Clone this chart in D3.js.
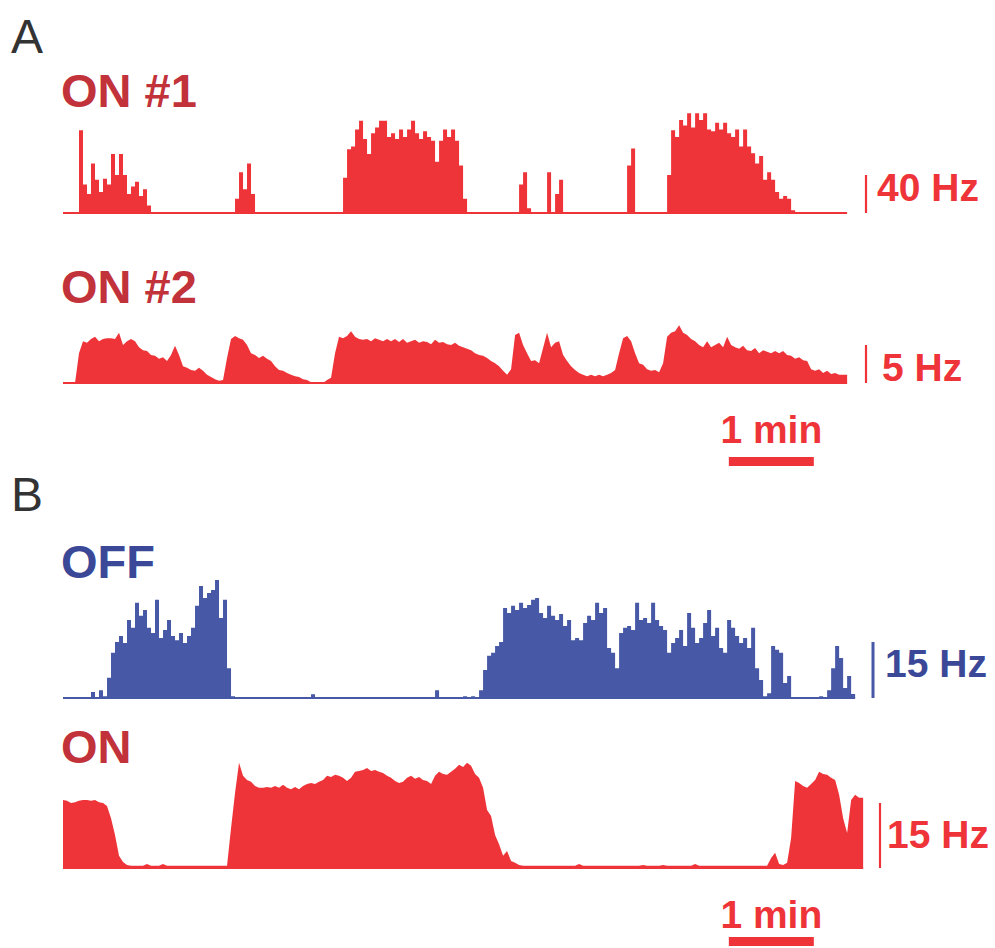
<!DOCTYPE html>
<html>
<head>
<meta charset="UTF-8">
<title></title>
<script src="https://cdn.jsdelivr.net/npm/d3@7/dist/d3.min.js"></script>
<style type="text/css">
	*{
		margin: 0;
		padding: 0;
	}
	body{
		background: #fff;
	}
	#mychart{
		width: 995px;
		height: 948px;
	}
	text{
		font-family: "Liberation Sans", Arial, sans-serif;
	}
</style>
</head>
<body>
<div id="mychart"></div>
<script type="text/javascript">
	//each sample covers ~2.8 s of recording
	var binSec = 2.824;

	//firing rate, ON #1 (Hz)
	var on1Rate = [
		0,0,0,0,
		87,30,20,52,35,22,36,30,62,40,62,40,20,28,33,18,25,8,
		0,0,0,0,0,1,0,0,0,0,0,0,0,0,0,0,0,0,0,0,0,
		15,43,25,52,20,
		0,0,0,0,0,0,0,0,0,0,0,0,0,0,0,0,0,0,0,0,0,0,
		37,67,70,88,97,78,62,84,90,97,97,80,84,78,88,80,88,97,84,78,86,80,76,54,76,88,80,88,76,50,15,
		0,0,0,0,0,0,0,0,0,0,0,0,0,
		30,43,5,
		0,0,0,0,
		43,0,20,35,
		0,0,0,0,0,0,0,0,0,0,0,0,0,0,0,0,
		50,68,
		0,0,0,0,0,0,0,0,
		40,87,80,98,92,105,90,105,98,105,88,86,95,88,95,84,80,88,70,88,70,63,52,60,35,43,35,22,15,18,15,3,
		0,0,0,0,0,0,0,0,0,0,0,0,0
	];

	//firing rate, ON #2 (Hz)
	var on2Rate = [
		0,0,0,0,
		3.9,5.5,5.3,5.8,6.1,5.5,5.8,5.9,5.9,5.8,6.6,5.0,5.5,5.8,5.5,4.7,4.3,4.2,3.7,3.6,
		3.2,3.4,2.9,3.7,4.9,3.7,2.2,2.0,1.7,1.6,2.0,1.6,1.1,0.8,0.5,0.3,0.4,
		3.3,5.8,6.2,5.9,5.7,5.0,3.9,3.7,3.3,3.6,3.2,2.9,2.2,1.7,1.6,1.3,1.1,0.9,0.8,0.5,
		0.4,0.1,0,0,0,0.4,0.7,
		3.9,6.1,5.9,6.2,6.8,6.1,5.8,5.7,5.8,5.5,5.9,5.7,5.5,5.8,5.5,5.8,5.4,5.8,5.3,5.5,
		5.7,5.3,5.5,5.4,5.1,5.7,5.3,5.4,5.1,5.0,5.3,4.9,4.7,4.5,4.3,3.9,3.7,3.6,3.3,2.9,
		2.6,2.2,1.6,1.1,
		1.8,6.3,6.6,5.0,3.9,2.9,3.0,2.6,4.6,6.6,4.7,5.3,5.5,3.7,2.9,2.2,1.7,1.3,1.1,0.9,
		1.1,0.9,1.1,0.9,1.1,1.3,1.7,3.9,5.9,6.2,5.5,3.9,2.6,2.4,1.8,1.6,1.7,1.4,2.6,
		6.1,6.6,6.8,7.6,6.6,6.3,5.8,5.5,5.0,4.7,5.5,4.7,5.0,5.3,4.7,6.1,5.0,4.7,4.5,4.9,
		4.3,4.2,4.6,3.9,4.3,4.1,3.9,4.2,3.9,4.2,3.7,3.6,3.2,3.4,3.0,2.9,1.8,1.6,1.8,1.3,
		1.6,1.2,1.3,1.1,1.1
	];

	//firing rate, OFF cell (Hz)
	var offRate = [
		0,0,0,0,0,0,0.3,1.6,0.3,2.1,0.5,
		5.4,12.1,15.0,16.6,14.7,20.9,18.8,25.5,22.0,23.6,18.8,17.4,26.3,16.1,18.2,20.9,16.6,15.5,17.4,14.7,
		16.6,18.8,24.7,30.0,26.8,28.1,28.9,31.6,21.4,26.3,8.0,0.5,
		0,0,0,0,0,0,0,0,0,0.3,0,0,0,0,0,0,0,0,0,
		1.0,
		0,0,0,0,0,0.3,0,0,0,0,0,0,0,0,0,0,0,0,0,0,0,0.3,0,0,0,0,0,0,0,0,
		2.1,
		0,0,0,0,0.3,0,0.5,0.3,0.5,0.3,
		2.1,7.5,11.3,12.1,13.9,15.0,24.1,22.8,24.7,23.6,25.5,24.1,24.9,26.3,26.8,
		22.8,21.4,24.7,22.0,20.9,22.5,19.3,20.9,15.5,16.1,15.5,20.1,22.0,20.9,25.5,22.8,24.1,
		13.4,12.1,8.0,17.4,18.8,19.3,18.2,25.5,20.9,21.4,20.1,25.5,20.9,19.3,18.2,
		12.1,14.7,16.1,18.2,13.9,22.8,18.8,14.7,16.1,20.1,23.6,16.6,18.8,13.4,12.1,
		20.9,18.8,16.6,14.7,16.1,13.4,18.8,8.0,4.8,0.5,1.3,13.9,12.9,12.1,4.0,5.9,
		0.3,0,0.3,0,0.3,0,0.3,0.5,0.3,
		2.1,8.0,13.9,10.7,2.7,5.9,1.1
	];

	//firing rate, ON cell (Hz)
	var onRate = [
		15.7,15.5,15.0,15.2,15.5,15.7,15.7,15.5,15.7,15.2,15.0,14.3,11.5,7.6,2.8,1.4,0.7,
		0.5,0.5,0.5,0.5,0.9,0.5,0.5,0.5,0.9,0.5,0.5,0.5,0.5,0.5,0.5,0.5,0.5,0.5,0.5,0.5,
		0.5,0.5,0.5,0.5,0.5,
		9.2,17.3,24.3,21.3,20.3,19.9,18.9,18.5,18.5,18.7,18.5,18.9,18.5,19.2,18.5,18.2,18.7,18.2,18.9,19.4,
		19.6,19.4,19.9,20.3,21.3,21.0,21.5,21.3,20.8,20.1,20.8,22.2,22.4,22.6,23.1,22.4,22.6,22.2,21.9,21.3,
		20.8,20.1,19.6,19.9,20.8,21.3,20.6,21.0,20.3,20.1,19.4,21.3,22.2,21.7,21.5,22.2,22.9,23.8,23.3,24.3,
		23.6,21.7,20.8,18.5,13.4,12.0,7.6,5.5,2.8,3.9,1.6,1.2,0.7,
		0.5,0.5,0.5,0.5,0.5,0.5,0.5,0.5,0.5,0.5,
		0.5,0.5,0.5,0.5,0.9,0.5,0.5,0.5,0.5,0.5,
		0.5,0.5,0.5,0.5,0.5,0.5,0.5,0.5,0.5,0.5,
		0.7,0.5,0.5,0.5,0.5,0.7,0.5,0.5,0.5,0.5,
		0.5,0.5,0.5,0.9,0.5,0.5,0.5,0.5,0.5,0.5,
		0.5,0.5,0.5,0.5,0.5,0.5,0.5,0.5,0.5,0.5,
		0.5,0.5,
		2.3,3.5,0.9,0.7,1.2,6.9,20.1,19.6,18.9,18.5,19.4,20.3,22.2,21.7,21.5,20.8,20.3,16.9,11.5,8.1,
		15.7,16.9,16.2
	];

	//scale bars
	var traceNames = ["ON #1", "ON #2", "OFF", "ON"];
	var scaleBarHz = [40, 5, 15, 15];
	var timeBarSec = 60;

	var red = "#ee3439", redDark = "#c2323a", blue = "#4759a6", blueDark = "#3b4898";

	var traces = [
		{name: traceNames[0], data: on1Rate, bar: scaleBarHz[0], base: 213, barPx: 38, step: true,
		 color: red, titleColor: redDark, titleY: 107, barX: 866, labelX: 877, labelY: 201},
		{name: traceNames[1], data: on2Rate, bar: scaleBarHz[1], base: 383, barPx: 38, step: false,
		 color: red, titleColor: redDark, titleY: 303, barX: 866, labelX: 882, labelY: 381},
		{name: traceNames[2], data: offRate, bar: scaleBarHz[2], base: 698, barPx: 56, step: true,
		 color: blue, titleColor: blueDark, titleY: 578, barX: 873, labelX: 885, labelY: 677},
		{name: traceNames[3], data: onRate, bar: scaleBarHz[3], base: 868, barPx: 65, step: false,
		 color: red, titleColor: redDark, titleY: 763, barX: 880, labelX: 887, labelY: 848}
	];

	drawFigure("mychart");

	function drawFigure(divId){
		var _svg = d3.select("#" + divId)
			.append("svg")
			.attr("width", 995)
			.attr("height", 948);

		//time scale shared by all traces: 1 min = 85 px
		var _x = d3.scaleLinear()
			.domain([0, 60])
			.range([63, 148]);

		//panel letters
		_svg.selectAll(".panel")
			.data([["A", 53], ["B", 511]])
			.enter()
			.append("text")
			.attr("class", "panel")
			.attr("x", 11)
			.attr("y", function(d){ return d[1]; })
			.attr("fill", "#333")
			.style("font-size", "48px")
			.text(function(d){ return d[0]; });

		traces.forEach(function(t){
			drawTrace(_svg, _x, t);
		});

		//1 min bars
		[{y: 457, ty: 443}, {y: 937, ty: 928}].forEach(function(b){
			_svg.append("rect")
				.attr("x", _x(470))
				.attr("y", b.y)
				.attr("width", _x(470 + timeBarSec) - _x(470))
				.attr("height", 9)
				.attr("fill", red);
			_svg.append("text")
				.attr("x", (_x(470) + _x(470 + timeBarSec)) / 2)
				.attr("y", b.ty)
				.attr("text-anchor", "middle")
				.attr("fill", red)
				.style("font-size", "39px")
				.style("font-weight", "bold")
				.text("1 min");
		});
	}

	function drawTrace(svg, _x, t){
		var _y = d3.scaleLinear()
			.domain([0, t.bar])
			.range([t.base, t.base - t.barPx]);

		var n = t.data.length;
		var pts = t.data.map(function(v, i){ return [i * binSec, v]; });
		pts.push([n * binSec, t.data[n - 1]]);

		var _area = d3.area()
			.x(function(d){ return _x(d[0]); })
			.y0(_y(0))
			.y1(function(d){ return _y(d[1]); })
			.curve(t.step ? d3.curveStepAfter : d3.curveLinear);

		var g = svg.append("g");

		g.append("path")
			.datum(pts)
			.attr("d", _area)
			.attr("fill", t.color);

		//baseline
		g.append("line")
			.attr("x1", _x(0))
			.attr("x2", _x(n * binSec))
			.attr("y1", _y(0))
			.attr("y2", _y(0))
			.attr("stroke", t.color)
			.attr("stroke-width", 2);

		//vertical Hz scale bar
		g.append("line")
			.attr("x1", t.barX)
			.attr("x2", t.barX)
			.attr("y1", _y(0))
			.attr("y2", _y(t.bar))
			.attr("stroke", t.color)
			.attr("stroke-width", t.color == blue ? 3 : 2.2);

		g.append("text")
			.attr("x", t.labelX)
			.attr("y", t.labelY)
			.attr("fill", t.color == blue ? blueDark : t.color)
			.style("font-size", "39px")
			.style("font-weight", "bold")
			.text(t.bar + " Hz");

		//trace title
		g.append("text")
			.attr("x", 61)
			.attr("y", t.titleY)
			.attr("fill", t.titleColor)
			.style("font-size", "47px")
			.style("font-weight", "bold")
			.text(t.name);
	}
</script>
</body>
</html>
